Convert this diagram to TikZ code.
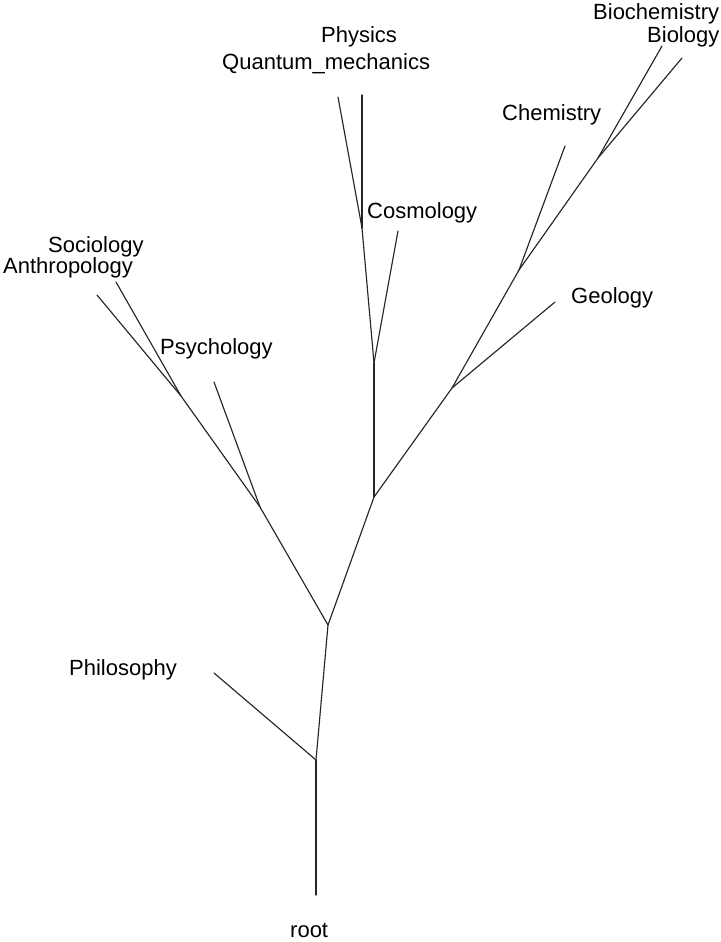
\documentclass[tikz,border=0pt]{standalone}
\usepackage{fontspec}
\setmainfont{Liberation Sans}
\begin{document}
\begin{tikzpicture}[x=1pt,y=-1pt,
  branch/.style={line width=1.15pt, draw=black!85, line cap=round},
  leaflabel/.style={anchor=base west, inner sep=0pt, font=\fontsize{22pt}{24pt}\selectfont}]
\useasboundingbox (0,0) rectangle (720,942);

% internal branch points
\coordinate (n0) at (316,760);
\coordinate (n1) at (328,625);
\coordinate (n2) at (260,507);
\coordinate (n3) at (181,396);
\coordinate (n4) at (374,497);
\coordinate (n5) at (374,363);
\coordinate (n6) at (362,228);
\coordinate (n7) at (452,388);
\coordinate (n8) at (519,270);
\coordinate (n9) at (598,158);

% leaf tips
\coordinate (troot) at (316,895);
\coordinate (tphil) at (214,673);
\coordinate (tpsy) at (214,382);
\coordinate (tanth) at (97,295);
\coordinate (tsoc) at (116,282);
\coordinate (tcos) at (398,231);
\coordinate (tqm) at (338,97);
\coordinate (tphys) at (362,95);
\coordinate (tgeo) at (555,302);
\coordinate (tchem) at (565,146);
\coordinate (tbioc) at (662,46);
\coordinate (tbio) at (682,58);

% edges
\draw[branch] (troot) -- (n0);
\draw[branch] (n0) -- (tphil);
\draw[branch] (n0) -- (n1);
\draw[branch] (n1) -- (n2);
\draw[branch] (n2) -- (tpsy);
\draw[branch] (n2) -- (n3);
\draw[branch] (n3) -- (tanth);
\draw[branch] (n3) -- (tsoc);
\draw[branch] (n1) -- (n4);
\draw[branch] (n4) -- (n5);
\draw[branch] (n5) -- (tcos);
\draw[branch] (n5) -- (n6);
\draw[branch] (n6) -- (tqm);
\draw[branch] (n6) -- (tphys);
\draw[branch] (n4) -- (n7);
\draw[branch] (n7) -- (tgeo);
\draw[branch] (n7) -- (n8);
\draw[branch] (n8) -- (tchem);
\draw[branch] (n8) -- (n9);
\draw[branch] (n9) -- (tbioc);
\draw[branch] (n9) -- (tbio);

% labels
\node[leaflabel] (lroot) at (290,937) {root};
\node[leaflabel] (lphil) at (69,675) {Philosophy};
\node[leaflabel] (lpsy) at (160,354) {Psychology};
\node[leaflabel] (lsoc) at (48,252) {Sociology};
\node[leaflabel] (lanth) at (3,273) {Anthropology};
\node[leaflabel] (lcos) at (367,218) {Cosmology};
\node[leaflabel] (lphys) at (321,43) {Physics};
\node[leaflabel] (lqm) at (222,70) {Quantum\_mechanics};
\node[leaflabel] (lgeo) at (571,303) {Geology};
\node[leaflabel] (lchem) at (502,120) {Chemistry};
\node[leaflabel] (lbioc) at (593,20) {Biochemistry};
\node[leaflabel] (lbio) at (647,43) {Biology};
\end{tikzpicture}
\end{document}
